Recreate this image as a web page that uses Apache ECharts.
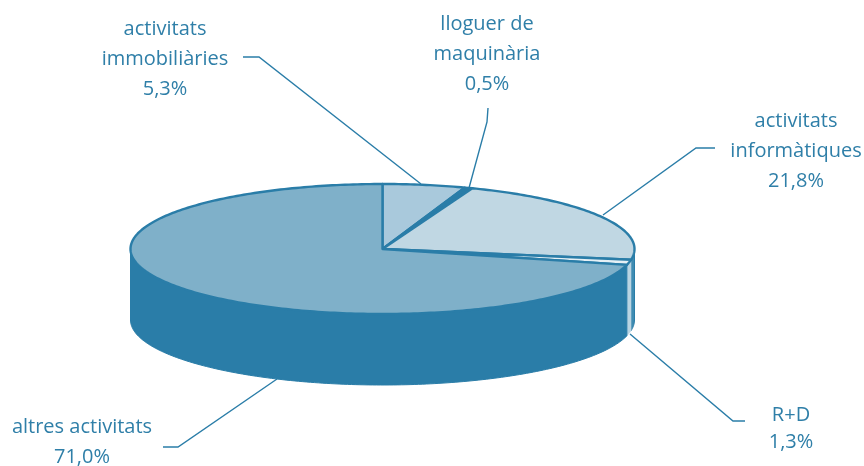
<!DOCTYPE html>
<html><head><meta charset="utf-8">
<style>html,body{margin:0;padding:0;background:#fff}#c{width:864px;height:466px}</style>
<script src="https://cdn.jsdelivr.net/npm/echarts@6/dist/echarts.min.js"></script>
</head><body><div id="c"></div>
<script>
const categories = ['activitats\nimmobiliàries', 'lloguer de\nmaquinària', 'activitats\ninformàtiques', 'R+D', 'altres activitats'];
const shares = [5.3, 0.5, 21.8, 1.3, 71.0];

const topColors = ['#a9c9dc', '#2a7da8', '#c0d7e3', '#e6f0f5', '#7fb0c9'];
const sideColors = ['#2a7da8', '#2a7da8', '#3f8cb2', '#b9d4e2', '#2a7da8'];
const edge = '#2a7da8', ink = '#2f7fa8';
const cx = 382.5, cy = 249, rx = 252, ry = 65, depth = 71;

const labelSpots = [[165, 29], [487, 24], [796, 121], [791, 415], [82, 427]];
const leaders = [
  [[243, 57], [259, 57], [421, 184]],
  [[488, 108], [487, 122], [469, 188]],
  [[715, 148], [696, 148], [603, 215]],
  [[745, 421], [733, 421], [630, 334]],
  [[163, 447], [178, 447], [277, 379]]
];

const total = shares.reduce((a, b) => a + b, 0);
const rim = (t, dy) => [cx + rx * Math.sin(t), cy + (dy || 0) - ry * Math.cos(t)];
const arc = (a, b, dy) => {
  const n = Math.max(2, Math.ceil(Math.abs(b - a) * 60)), out = [];
  for (let i = 0; i <= n; i++) out.push(rim(a + (b - a) * i / n, dy));
  return out;
};
const range = i => {
  let before = 0;
  for (let k = 0; k < i; k++) before += shares[k];
  return [before / total * 2 * Math.PI, (before + shares[i]) / total * 2 * Math.PI];
};

const wall = (params, api) => {
  const i = params.dataIndex;
  api.value(0);
  const [a0, b0] = range(i);
  const a = Math.max(a0, Math.PI / 2), b = Math.min(b0, 3 * Math.PI / 2);
  if (b <= a) return null;
  const pts = arc(a, b, 0).concat(arc(b, a, depth));
  return {type: 'polygon', shape: {points: pts},
    style: {fill: sideColors[i], stroke: i === 3 ? sideColors[i] : edge, lineWidth: i === 3 ? 0.5 : 1}};
};
const face = (params, api) => {
  const i = params.dataIndex;
  api.value(0);
  const [a, b] = range(i);
  const pts = [[cx, cy]].concat(arc(a, b, 0));
  return {type: 'polygon', shape: {points: pts},
    style: {fill: topColors[i], stroke: edge, lineWidth: 2.4, lineJoin: 'round'}};
};

const graphics = [];
leaders.forEach(l => graphics.push({type: 'polyline', z: 20, silent: true,
  shape: {points: l}, style: {fill: null, stroke: edge, lineWidth: 1.4}}));
categories.forEach((c, i) => {
  const lines = c.split('\n').concat(shares[i].toFixed(1).replace('.', ',') + '%');
  const step = i === 3 ? 27 : 30;
  lines.forEach((t, k) => graphics.push({type: 'text', z: 21, silent: true,
    x: labelSpots[i][0], y: labelSpots[i][1] + k * step,
    style: {text: t, fill: ink, font: '20px "Open Sans", "Noto Sans", sans-serif',
      textAlign: 'center', textVerticalAlign: 'middle'}}));
});

const chart = echarts.init(document.getElementById('c'), null, {renderer: 'canvas'});
chart.setOption({
  animation: false,
  backgroundColor: '#fff',
  series: [
    {type: 'custom', coordinateSystem: 'none', renderItem: wall, z: 2, silent: true,
     data: shares.map((v, i) => ({name: categories[i], value: [v]}))},
    {type: 'custom', coordinateSystem: 'none', renderItem: face, z: 3, silent: true,
     data: shares.map((v, i) => ({name: categories[i], value: [v]}))}
  ],
  graphic: graphics
});
</script></body></html>
